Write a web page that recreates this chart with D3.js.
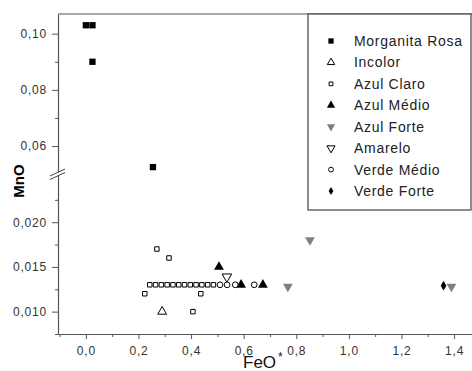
<!DOCTYPE html>
<html>
<head>
<meta charset="utf-8">
<script src="https://cdn.jsdelivr.net/npm/d3@7"></script>
<style>
  body { margin: 0; background: #fff; }
  svg { display: block; font-family: "Liberation Sans", Arial, sans-serif; }
  .tick text { fill: #333; letter-spacing: 0.8px; }
</style>
</head>
<body>
<div id="chart"></div>
<script>
const W = 472, H = 371;

const groups = ["Morganita Rosa", "Incolor", "Azul Claro", "Azul Médio", "Azul Forte", "Amarelo", "Verde Médio", "Verde Forte"];

const morganitaFeO = [0.0, 0.025, 0.025, 0.255];
const morganitaMnO = [0.103, 0.103, 0.090, 0.0525];
const incolorFeO = [0.29];
const incolorMnO = [0.010];
const azulClaroFeO = [0.224, 0.243, 0.265, 0.287, 0.309, 0.331, 0.353, 0.375, 0.397, 0.419, 0.441, 0.463, 0.485, 0.27, 0.316, 0.437, 0.407];
const azulClaroMnO = [0.012, 0.013, 0.013, 0.013, 0.013, 0.013, 0.013, 0.013, 0.013, 0.013, 0.013, 0.013, 0.013, 0.017, 0.016, 0.012, 0.010];
const azulMedioFeO = [0.506, 0.59, 0.673];
const azulMedioMnO = [0.015, 0.013, 0.013];
const azulForteFeO = [0.768, 0.852, 1.39];
const azulForteMnO = [0.0128, 0.018, 0.0128];
const amareloFeO = [0.536];
const amareloMnO = [0.0139];
const verdeMedioFeO = [0.51, 0.537, 0.568, 0.64];
const verdeMedioMnO = [0.013, 0.013, 0.013, 0.013];
const verdeForteFeO = [1.36];
const verdeForteMnO = [0.0129];

const xTicks = [0, 0.2, 0.4, 0.6, 0.8, 1.0, 1.2, 1.4];
const yTicksUpper = [0.06, 0.08, 0.10];
const yTicksLower = [0.010, 0.015, 0.020];

const seriesFeO = [morganitaFeO, incolorFeO, azulClaroFeO, azulMedioFeO, azulForteFeO, amareloFeO, verdeMedioFeO, verdeForteFeO];
const seriesMnO = [morganitaMnO, incolorMnO, azulClaroMnO, azulMedioMnO, azulForteMnO, amareloMnO, verdeMedioMnO, verdeForteMnO];

// marker style per group
const markStyle = {
  "Morganita Rosa": { type: d3.symbolSquare, size: 40, fill: "#000", stroke: "none", rot: 0 },
  "Incolor":        { type: d3.symbolTriangle, size: 34, fill: "#fff", stroke: "#000", rot: 0 },
  "Azul Claro":     { type: d3.symbolSquare, size: 20, fill: "#fff", stroke: "#000", rot: 0 },
  "Azul Médio":     { type: d3.symbolTriangle, size: 42, fill: "#000", stroke: "none", rot: 0 },
  "Azul Forte":     { type: d3.symbolTriangle, size: 42, fill: "#808080", stroke: "none", rot: 180 },
  "Amarelo":        { type: d3.symbolTriangle, size: 40, fill: "#fff", stroke: "#000", rot: 180 },
  "Verde Médio":    { type: d3.symbolCircle, size: 26, fill: "#fff", stroke: "#000", rot: 0 },
  "Verde Forte":    { type: d3.symbolDiamond, size: 28, fill: "#000", stroke: "none", rot: 0 }
};

const mLeft = 58, mTop = 14, mBottom = 334, breakY = 173;

const x = d3.scaleLinear().domain([-0.106, 1.56]).range([mLeft, mLeft + 1.666 * 263]);
const yUp = d3.scaleLinear().domain([0.0504, 0.107]).range([breakY, mTop]);
const yLo = d3.scaleLinear().domain([0.0075, 0.0255]).range([mBottom, breakY]);
const yPos = v => v > 0.03 ? yUp(v) : yLo(v);

const comma = f => v => d3.format(f)(v).replace(".", ",");

const svg = d3.select("#chart").append("svg")
  .attr("width", W).attr("height", H);

// top frame line
svg.append("line")
  .attr("x1", mLeft).attr("x2", W).attr("y1", mTop).attr("y2", mTop)
  .attr("stroke", "#555").attr("stroke-width", 1.2);

// x axis: minor then major
const xMinor = d3.range(-0.1, 1.51, 0.2);
svg.append("g")
  .attr("transform", "translate(0," + mBottom + ")")
  .call(d3.axisBottom(x).tickValues(xMinor).tickSize(3).tickFormat(""))
  .call(g => g.select(".domain").remove())
  .call(g => g.selectAll("line").attr("stroke", "#555"));

svg.append("g")
  .attr("transform", "translate(0," + mBottom + ")")
  .call(d3.axisBottom(x).tickValues(xTicks).tickSize(5).tickPadding(7).tickSizeOuter(0).tickFormat(comma(".1f")))
  .call(g => g.select(".domain").attr("stroke", "#555").attr("stroke-width", 1.2))
  .call(g => g.selectAll("line").attr("stroke", "#555"))
  .call(g => g.selectAll("text").attr("font-size", 12));

// y axis upper
svg.append("g")
  .attr("transform", "translate(" + mLeft + ",0)")
  .call(d3.axisLeft(yUp).tickValues([0.05, 0.07, 0.09]).tickSize(3).tickFormat(""))
  .call(g => g.select(".domain").remove())
  .call(g => g.selectAll("line").attr("stroke", "#555"));
svg.append("g")
  .attr("transform", "translate(" + mLeft + ",0)")
  .call(d3.axisLeft(yUp).tickValues(yTicksUpper).tickSize(6).tickPadding(5).tickSizeOuter(0).tickFormat(comma(".2f")))
  .call(g => g.select(".domain").attr("stroke", "#555").attr("stroke-width", 1.2))
  .call(g => g.selectAll("line").attr("stroke", "#555"))
  .call(g => g.selectAll("text").attr("font-size", 12));

// y axis lower
svg.append("g")
  .attr("transform", "translate(" + mLeft + ",0)")
  .call(d3.axisLeft(yLo).tickValues([0.0075, 0.0125, 0.0175, 0.0225]).tickSize(3).tickFormat(""))
  .call(g => g.select(".domain").remove())
  .call(g => g.selectAll("line").attr("stroke", "#555"));
svg.append("g")
  .attr("transform", "translate(" + mLeft + ",0)")
  .call(d3.axisLeft(yLo).tickValues(yTicksLower).tickSize(6).tickPadding(5).tickSizeOuter(0).tickFormat(comma(".3f")))
  .call(g => g.select(".domain").attr("stroke", "#555").attr("stroke-width", 1.2))
  .call(g => g.selectAll("line").attr("stroke", "#555"))
  .call(g => g.selectAll("text").attr("font-size", 12));

// axis break marks
const brk = svg.append("g");
brk.append("polygon")
  .attr("points", [[50, 176], [65, 169], [65, 172], [50, 179]].join(" "))
  .attr("fill", "#fff");
[0, 3.5].forEach(dy => {
  brk.append("line")
    .attr("x1", 50).attr("y1", 176 + dy).attr("x2", 65).attr("y2", 169 + dy)
    .attr("stroke", "#444").attr("stroke-width", 1);
});

// axis titles
svg.append("text")
  .attr("transform", "translate(24," + 181 + ") rotate(-90)")
  .attr("text-anchor", "middle")
  .attr("font-size", 15).attr("font-weight", "bold")
  .text("MnO");

const xt = svg.append("text")
  .attr("x", 243).attr("y", 368)
  .attr("font-size", 17).attr("fill", "#111");
xt.append("tspan").text("FeO");
xt.append("tspan").attr("dy", -7).attr("dx", 2).attr("font-size", 12).text("*");

// points
const symGen = d3.symbol();
groups.forEach((gname, i) => {
  const st = markStyle[gname];
  const pts = seriesFeO[i].map((fx, j) => ({ fx: fx, my: seriesMnO[i][j] }));
  svg.append("g").selectAll("path")
    .data(pts)
    .enter().append("path")
    .attr("d", symGen.type(st.type).size(st.size)())
    .attr("transform", d => "translate(" + x(d.fx) + "," + yPos(d.my) + ") rotate(" + st.rot + ")")
    .attr("fill", st.fill)
    .attr("stroke", st.stroke)
    .attr("stroke-width", 1);
});

// legend
const lg = svg.append("g");
lg.append("rect")
  .attr("x", 308).attr("y", mTop).attr("width", 163).attr("height", 196)
  .attr("fill", "#fff").attr("stroke", "#444").attr("stroke-width", 1.2);

const rowY = d3.scaleLinear().domain([0, 7]).range([41, 191]);
const items = lg.selectAll(".legend-item")
  .data(groups)
  .enter().append("g")
  .attr("class", "legend-item")
  .attr("transform", (d, i) => "translate(0," + rowY(i) + ")");

items.append("path")
  .attr("d", d => symGen.type(markStyle[d].type).size(markStyle[d].size * 0.7)())
  .attr("transform", d => "translate(331,0) rotate(" + markStyle[d].rot + ")")
  .attr("fill", d => markStyle[d].fill)
  .attr("stroke", d => markStyle[d].stroke);

items.append("text")
  .attr("x", 354).attr("y", 5)
  .attr("font-size", 14)
  .attr("letter-spacing", 0.7)
  .attr("fill", "#222")
  .text(d => d);
</script>
</body>
</html>
